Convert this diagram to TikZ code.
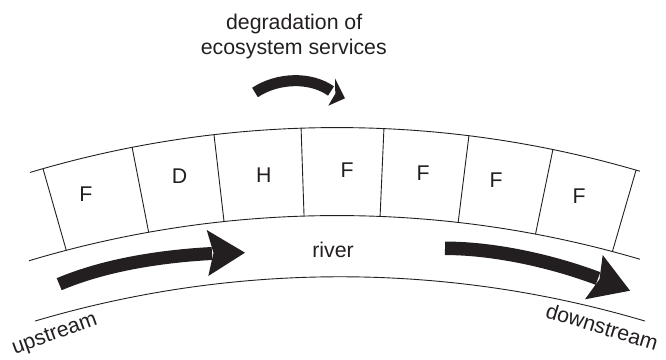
\documentclass[tikz,border=0pt]{standalone}
\usepackage{fontspec}
\setmainfont{Liberation Sans}
\usetikzlibrary{calc}
\definecolor{ink}{RGB}{35,31,32}
\begin{document}
\begin{tikzpicture}[x=1pt,y=1pt,
  thinline/.style={draw=ink,line width=0.9pt},
  lbl/.style={text=ink,inner sep=0pt,anchor=base,font=\fontsize{21.3}{25}\selectfont},
  shaft/.style={draw=ink,line cap=butt},
  head/.style={fill=ink}]
\useasboundingbox (0,0) rectangle (666,359);
% centres of the arcs
\coordinate (Ct) at (337,-840.5);
\coordinate (Cm) at (337,-928.5);
\coordinate (Cl) at (340,-989.7);
% band top, band bottom / river top, river bottom
\draw[thinline] ($(Ct)+(106.64:1072)$) arc[start angle=106.64,end angle=73.58,radius=1072];
\draw[thinline] ($(Cm)+(106.70:1072)$) arc[start angle=106.70,end angle=73.58,radius=1072];
\draw[thinline] ($(Cl)+(106.53:1072)$) arc[start angle=106.53,end angle=73.47,radius=1072];
% cell dividers
\foreach \a/\r in {105.92/987.1,101.02/985.5,96.59/984.5,91.92/984.05,87.49/984.1,82.93/984.6,78.38/985.65,73.8/987.2}
  \draw[thinline] ($(Ct)+(\a:1072)$) -- ($(Ct)+(\a:\r)$);
% cell labels
\node[lbl] (c1) at (86,157.3) {F};
\node[lbl] (c2) at (179.5,175) {D};
\node[lbl] (c3) at (263.7,176.3) {H};
\node[lbl] (c4) at (347,181.3) {F};
\node[lbl] (c5) at (423,178) {F};
\node[lbl] (c6) at (496,171.7) {F};
\node[lbl] (c7) at (579,155) {F};
% texts
\node[lbl] (river) at (333,101.3) {river};
\node[lbl] (deg1) at (294.2,329) {degradation of};
\node[lbl] (deg2) at (293.8,304) {ecosystem services};
\node[lbl,rotate=20] (up) at (56.5,19.5) {upstream};
\node[lbl,rotate=-17] (down) at (600,25) {downstream};
% left river arrow
\draw[shaft,line width=13pt] (59.2,74.8) .. controls (105.2,94.3) and (162,102.9) .. (212,105.5);
\fill[head] (206.7,129) -- (245,106.3) -- (208.3,83) -- (213.5,106) -- cycle;
% right river arrow
\draw[shaft,line width=13.5pt] (445,110.7) .. controls (495,110.7) and (553,97.5) .. (598,80.5);
\fill[head] (602.7,104) -- (630,68.3) -- (585,59.7) -- (599.5,79.8) -- cycle;
% top arrow
\draw[shaft,line width=11pt] (255,266.5) .. controls (277.5,281.5) and (310.6,282.5) .. (331,268);
\fill[head] (335,280.7) -- (345,260.7) -- (328.3,253.3) -- (335.3,265.3) -- cycle;
\end{tikzpicture}
\end{document}
